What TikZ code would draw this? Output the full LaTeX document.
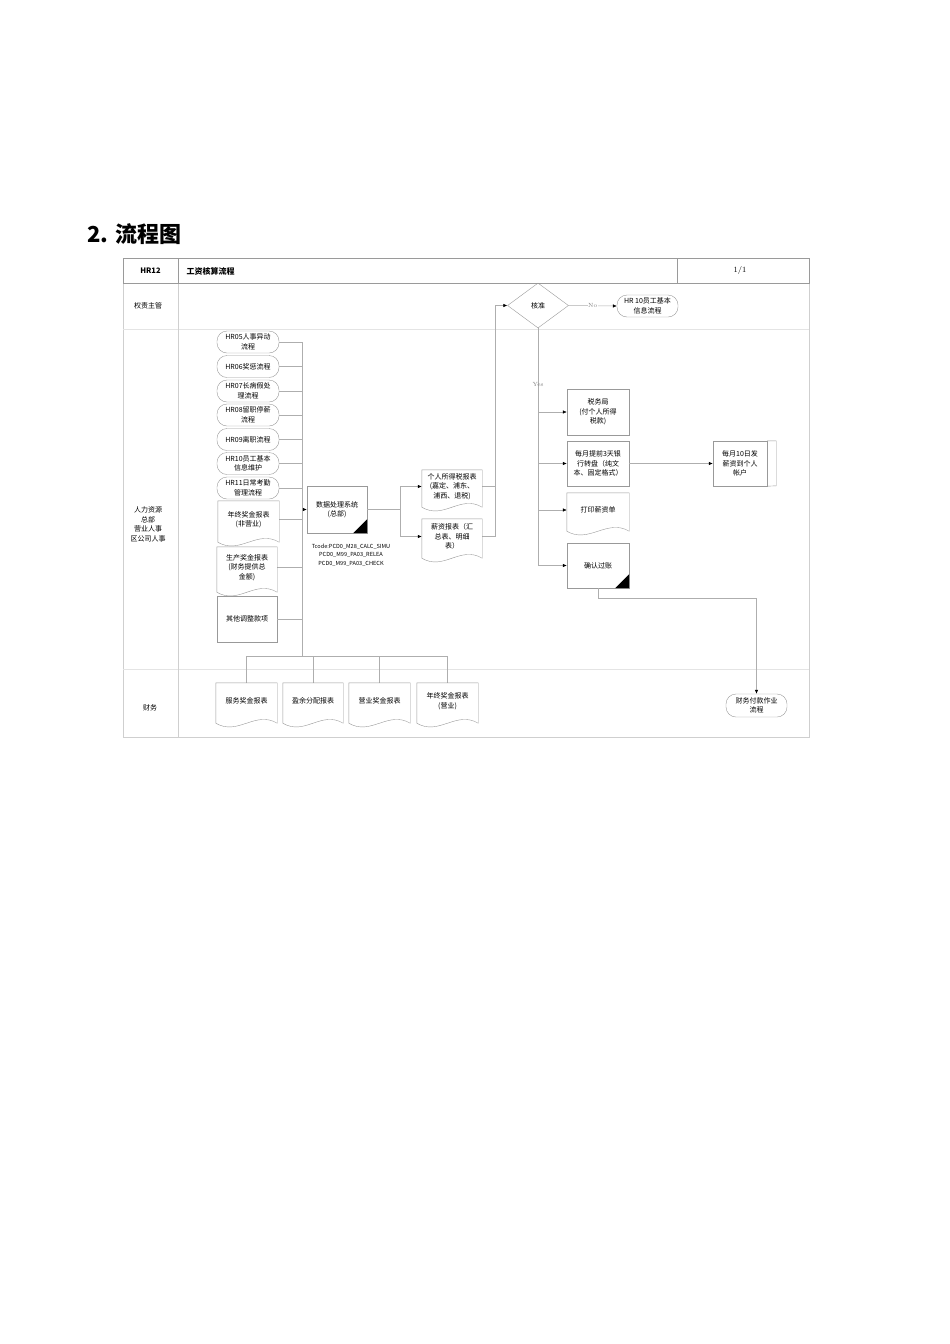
\documentclass[tikz,border=0pt]{standalone}
\usepackage{fontspec}
\newfontfamily\cjk{Noto Sans CJK SC}
\usetikzlibrary{arrows.meta,shapes.geometric}
\definecolor{linegray}{HTML}{AEAEAE}
\definecolor{boxgray}{HTML}{999999}
\definecolor{headgray}{HTML}{9A9A9A}
\definecolor{framegray}{HTML}{CFCFCF}
\definecolor{lanegray}{HTML}{E4E4E4}
\tikzset{
  lbl/.style={font=\cjk\fontsize{7}{9.5}\selectfont, align=center, inner sep=1pt},
  term/.style={lbl, draw=boxgray, rounded corners=10pt, minimum width=62pt, minimum height=22pt},
  procbox/.style={lbl, draw=boxgray, minimum width=61pt, minimum height=45pt},
  docnode/.style={lbl, minimum width=61pt},
  flow/.style={draw=linegray, line width=0.5pt},
  arr/.style={-{Latex[length=4pt,width=3.5pt,black]}},
  yesno/.style={font=\fontsize{6}{7}\selectfont, text=gray, inner sep=0.5pt}
}
\begin{document}
\begin{tikzpicture}[x=1pt,y=-1pt]
\useasboundingbox (0,0) rectangle (950,1344);
% title
\node[anchor=west, inner sep=0, font=\cjk\bfseries\fontsize{22}{26}\selectfont] (title) at (87,234) {2. 流程图};
% frame and lanes
\draw[framegray] (123,258) rectangle (809,737);
\draw[lanegray] (123,329) -- (809,329);
\draw[lanegray] (123,669) -- (809,669);
\draw[framegray] (178,283) -- (178,737);
\draw[headgray] (123,258) rectangle (809,283);
\draw[headgray] (178,258) -- (178,283);
\draw[headgray] (677,258) -- (677,283);
\node[font=\cjk\bfseries\fontsize{7.5}{9}\selectfont] (code) at (150.5,270.5) {HR12};
\node[anchor=west, font=\cjk\bfseries\fontsize{8}{9}\selectfont] (name) at (183,271) {工资核算流程};
\node[font=\fontsize{8}{9}\selectfont] (page) at (740,270) {1/1};
\node[lbl] (lane1) at (148,306) {权责主管};
\node[lbl] (lane2) at (148,524.5) {人力资源\\总部\\营业人事\\区公司人事};
\node[lbl] (lane3) at (150,708) {财务};
% left column
\node[term] (hr05) at (248,342) {HR05人事异动\\流程};
\node[term] (hr06) at (248,366.5) {HR06奖惩流程};
\node[term] (hr07) at (248,391) {HR07长病假处\\理流程};
\node[term] (hr08) at (248,415) {HR08留职停薪\\流程};
\node[term] (hr09) at (248,439.5) {HR09离职流程};
\node[term] (hr10) at (248,463.5) {HR10员工基本\\信息维护};
\node[term] (hr11) at (248,488) {HR11日常考勤\\管理流程};
\node[docnode, minimum height=37pt] (nonsales) at (248.5,519.5) {年终奖金报表\\(非营业)};
\node[docnode, minimum height=41pt, minimum width=60pt] (prod) at (247,567.5) {生产奖金报表\\(财务提供总\\金额)};
\node[procbox, minimum width=60pt, minimum height=46pt] (other) at (247,619) {其他调整款项};
\coordinate (trunk) at (302,342);
\coordinate (trunkend) at (302,656);
\draw[flow] (trunk) -- (trunkend);
\foreach \src in {hr05,hr06,hr07,hr08,hr09,hr10,hr11,nonsales,prod,other}
  \draw[flow] (\src.east) -- (\src.east -| trunk);
% data processing
\node[procbox, minimum width=60pt, minimum height=47pt] (data) at (337,509.5) {数据处理系统\\(总部)};
\fill (data.south east) -- ++(-14,0) -- ++(14,-14) -- cycle;
\draw[flow,arr] (data.west -| trunk) -- (data.west);
\node[font=\cjk\fontsize{5.6}{8.5}\selectfont, align=center] (tcode) at (351,555) {Tcode:PCD0\_M28\_CALC\_SIMU\\PCD0\_M99\_PA03\_RELEA\\PCD0\_M99\_PA03\_CHECK};
\node[docnode, minimum width=60pt, minimum height=33pt] (taxrep) at (452,486.5) {个人所得税报表\\(嘉定、浦东、\\浦西、退税)};
\node[docnode, minimum width=60pt, minimum height=35pt] (salrep) at (452,536.5) {薪资报表（汇\\总表、明细\\表）};
\coordinate (split) at (400,508);
\draw[flow] (data.east) -- (data.east -| split);
\draw[flow,arr] (data.east -| split) |- (taxrep.west);
\draw[flow,arr] (data.east -| split) |- (salrep.west);
% approval
\node[lbl, diamond, draw=boxgray, minimum width=61pt, minimum height=45pt, inner sep=0pt] (check) at (538,305.5) {核准};
\node[term, minimum width=61pt] (hr10b) at (647.5,306) {HR 10员工基本\\信息流程};
\coordinate (join) at (495,305.5);
\draw[flow] (taxrep.east) -- (taxrep.east -| join);
\draw[flow,arr] (salrep.east) -| (join) -- (check.west);
\draw[flow,arr] (check.east) -- node[yesno, fill=white] (nolbl) {No} (hr10b.west);
% right column
\node[procbox, minimum width=62pt, minimum height=46pt] (taxbur) at (598,412) {税务局\\(付个人所得\\税款)};
\node[procbox, minimum width=62pt] (bank) at (598,463.5) {每月提前3天银\\行转盘（纯文\\本、固定格式）};
\node[docnode, minimum width=62pt, minimum height=34pt] (print) at (598,510) {打印薪资单};
\node[procbox, minimum width=62pt] (post) at (598,565.5) {确认过账};
\fill (post.south east) -- ++(-14,0) -- ++(14,-14) -- cycle;
\draw[flow] (check.south) -- node[yesno, pos=0.236] (yeslbl) {Yes} (check.south |- post.west);
\foreach \dst in {taxbur,bank,print,post}
  \draw[flow,arr] (check.south |- \dst.west) -- (\dst.west);
\node[procbox, minimum width=54pt] (pay) at (740,463.5) {每月10日发\\薪资到个人\\帐户};
\draw[boxgray] (pay.north east) -- ++(9,0) -- ++(0,45) -- (pay.south east);
\draw[flow,arr] (bank.east) -- (pay.west);
% finance lane
\node[term, minimum width=61pt, minimum height=23pt] (finpay) at (756.5,705.5) {财务付款作业\\流程};
\draw[flow,arr] (post.south) -- ++(0,10) -| (finpay.north);
\node[docnode, minimum height=36pt] (svc) at (246.5,701) {服务奖金报表};
\node[docnode, minimum width=60pt, minimum height=36pt] (div) at (313,701) {盈余分配报表};
\node[docnode, minimum height=36pt] (busb) at (379.5,701) {营业奖金报表};
\node[docnode, minimum height=36pt] (yrb) at (447.5,701) {年终奖金报表\\(营业)};
\draw[flow] (svc.north |- trunkend) -- (yrb.north |- trunkend);
\foreach \dst in {svc,div,busb,yrb}
  \draw[flow] (\dst.north |- trunkend) -- (\dst.north);
% document outlines
\foreach \docname in {nonsales,prod,taxrep,salrep,print,svc,div,busb,yrb}
  \draw[boxgray] (\docname.north west) -- (\docname.north east) -- ([yshift=-4pt]\docname.south east) .. controls +(-22,-13) and +(22,13) .. ([yshift=-4pt]\docname.south west) -- cycle;
\end{tikzpicture}
\end{document}
